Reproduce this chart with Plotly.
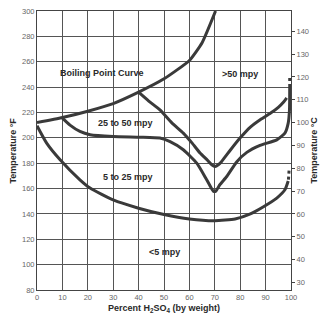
import plotly.graph_objects as go

# ---- data ----
x_ticks = list(range(0, 101, 10))
yF_ticks = list(range(80, 301, 20))
yC_ticks = list(range(30, 141, 10))

boil_x = [0, 10, 20, 30, 40, 50, 60, 65, 70.3]
boil_y = [212, 216, 221, 227, 236, 246.5, 261, 275, 300]

c50_x = [40, 44, 48.4, 53, 57.6, 61, 64.2, 66.8, 68.8, 70.1, 71.5, 72.7, 76, 80, 84, 88, 92, 95, 97, 98.3]
c50_y = [236, 229, 222, 212, 203.7, 196, 188, 183, 178.7, 177.4, 179, 181.4, 190, 200, 208.5, 214.5, 219.5, 224, 228, 231.5]

c25_x = [10, 13, 16.9, 20.9, 30, 40.6, 48.4, 52.4, 57.6, 62.9, 66.8, 69.4, 70.4, 72, 74.7, 78.6, 82.6, 87.8, 94.4, 97.6, 98.9, 99.4, 99.5]
c25_y = [215.5, 210, 205, 202.4, 201, 200.5, 199.8, 197, 190.6, 180, 167, 158, 158, 163, 169.5, 181, 188.5, 194, 198.4, 203.7, 211.6, 222, 240]
c25_dot_x = [99.5, 99.5]
c25_dot_y = [240, 248]

c5_x = [0, 3.8, 9.1, 16.9, 20.9, 30, 40, 50, 60, 70, 78, 84, 89, 94.4, 97.6, 98.9]
c5_y = [209.5, 195.8, 182.7, 166.9, 160.4, 151, 144.5, 139.5, 136, 134.6, 136, 140, 145.5, 152.5, 159, 166]
c5_dot_x = [99.0, 99.3]
c5_dot_y = [167, 176]

labels = ["Boiling Point Curve", ">50 mpy", "25 to 50 mpy", "5 to 25 mpy", "<5 mpy"]
label_x = [25.6, 80, 35, 36, 50]
label_y = [251, 250, 212, 169, 110]

# ---- figure ----
LINE = "#3a3a3a"
FONT = "Liberation Sans, Arial, sans-serif"

fig = go.Figure()

def curve(xs, ys, dash="solid"):
    fig.add_trace(go.Scatter(x=xs, y=ys, mode="lines",
                             line=dict(color=LINE, width=3, shape="spline", smoothing=0.5, dash=dash),
                             hoverinfo="skip", showlegend=False))

curve(boil_x, boil_y)
curve(c50_x, c50_y)
curve(c25_x, c25_y)
curve(c25_dot_x, c25_dot_y, dash="dot")
curve(c5_x, c5_y)
curve(c5_dot_x, c5_dot_y, dash="dot")

# invisible trace so the °C axis is drawn
fig.add_trace(go.Scatter(x=[50], y=[50], yaxis="y2", mode="markers",
                         marker=dict(opacity=0), hoverinfo="skip", showlegend=False))

for t, xx, yy in zip(labels, label_x, label_y):
    fig.add_annotation(x=xx, y=yy, text=t, showarrow=False,
                       font=dict(family=FONT, size=9, color="#2a2a2a", weight="bold"))

# axis titles
fig.add_annotation(xref="paper", yref="paper", x=-0.098, y=0.5, text="Temperature °F",
                   textangle=-90, showarrow=False, xanchor="center", yanchor="middle",
                   font=dict(family=FONT, size=9, color="#2a2a2a", weight="bold"))
fig.add_annotation(xref="paper", yref="paper", x=1.087, y=0.5, text="Temperature °C",
                   textangle=-90, showarrow=False, xanchor="center", yanchor="middle",
                   font=dict(family=FONT, size=9, color="#2a2a2a", weight="bold"))
fig.add_annotation(xref="paper", yref="paper", x=0.5, y=-0.068,
                   text="Percent H<sub>2</sub>SO<sub>4</sub> (by weight)",
                   showarrow=False, xanchor="center", yanchor="middle",
                   font=dict(family=FONT, size=9, color="#2a2a2a", weight="bold"))

GRID = "#555555"
fig.update_layout(
    width=326, height=324,
    margin=dict(l=37, r=35, t=11, b=34, autoexpand=False),
    paper_bgcolor="white", plot_bgcolor="white",
    font=dict(family=FONT, size=7.5, color="#666666"),
    xaxis=dict(range=[0, 100], tickvals=x_ticks, showgrid=True, gridcolor=GRID, gridwidth=1,
               showline=True, linecolor="#444444", linewidth=1, mirror=True,
               ticks="", zeroline=False, fixedrange=True),
    yaxis=dict(range=[80, 300], tickvals=yF_ticks, showgrid=True, gridcolor=GRID, gridwidth=1,
               showline=True, linecolor="#444444", linewidth=1, mirror=True,
               ticks="", zeroline=False, fixedrange=True),
    yaxis2=dict(range=[(80 - 32) / 1.8, (300 - 32) / 1.8], tickvals=yC_ticks,
                overlaying="y", side="right", showgrid=False, zeroline=False,
                ticks="outside", ticklen=3, tickcolor="#444444", showline=False,
                fixedrange=True),
)

fig.write_html("out.html")
